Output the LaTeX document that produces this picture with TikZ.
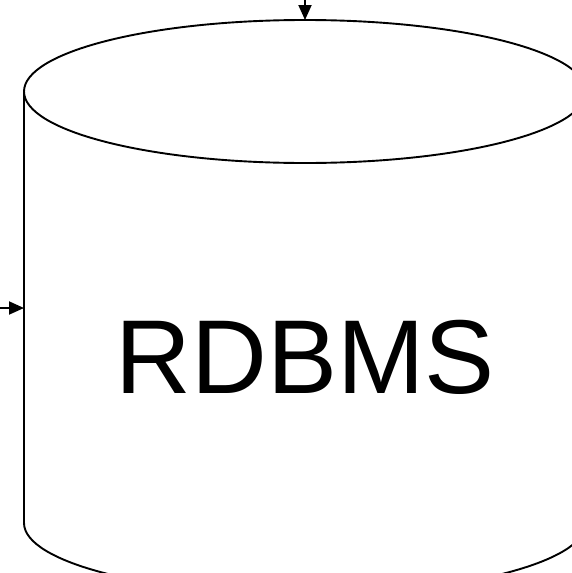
\documentclass[tikz,border=0pt]{standalone}
\usepackage{fontspec}
\setmainfont{Liberation Sans}
\usetikzlibrary{arrows.meta}
\begin{document}
\begin{tikzpicture}[x=1pt,y=-1pt,
  outline/.style={draw=black,line width=1.9pt},
  conn/.style={draw=black,line width=1.9pt,-{Triangle[length=15pt,width=13pt]}}]
\useasboundingbox (0,0) rectangle (572,573);
\clip (0,0) rectangle (572,573);
% cylinder
\draw[outline] (24,91.5) -- (24,523) arc[start angle=180,end angle=360,x radius=281,y radius=-71.5] -- (586,91.5);
\draw[outline] (305,91.5) ellipse [x radius=281,y radius=71.5];
\node (label) [anchor=base,inner sep=0pt,font=\fontsize{105}{120}\selectfont] at (305,393) {RDBMS};
% connectors
\coordinate (topin) at (305,20);
\coordinate (topsrc) at (305,-2);
\coordinate (leftin) at (24,308);
\coordinate (leftsrc) at (-2,308);
\draw[conn] (topsrc) -- (topin);
\draw[conn] (leftsrc) -- (leftin);
\end{tikzpicture}
\end{document}
